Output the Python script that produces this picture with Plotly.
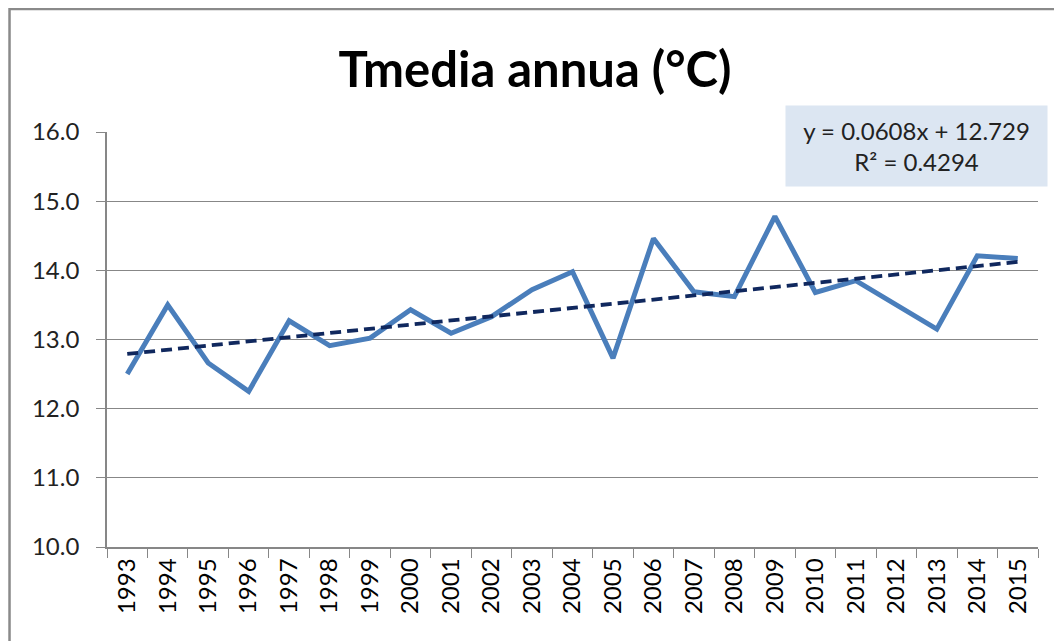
import numpy as np
import plotly.graph_objects as go

# annual mean temperature (°C)
years = [str(y) for y in range(1993, 2016)]
tmedia = [12.50, 13.50, 12.66, 12.25, 13.27, 12.91, 13.02, 13.43, 13.09, 13.33, 13.72, 13.98,
          12.73, 14.46, 13.69, 13.62, 14.78, 13.68, 13.85, 13.50, 13.15, 14.21, 14.17]
trend_label = "y = 0.0608x + 12.729<br>R² = 0.4294"

# linear trend over the category index (1..n), as in the spreadsheet
idx = np.arange(1, len(tmedia) + 1)
slope, intercept = np.polyfit(idx, tmedia, 1)
trend = slope * idx + intercept

FONT = "Lato"
GRAY = "#878787"

fig = go.Figure()
fig.add_trace(go.Scatter(x=years, y=tmedia, mode="lines",
                         line=dict(color="#4a7ebb", width=5), showlegend=False))
fig.add_trace(go.Scatter(x=years, y=trend, mode="lines",
                         line=dict(color="#10285e", width=3.8, dash="11px,6px"), showlegend=False))

# the page body adds 8px on the left/top, so the figure is a bit smaller than the window
fig.update_layout(
    width=1054, height=633,
    margin=dict(l=99, r=24, t=124, b=94),
    paper_bgcolor="white", plot_bgcolor="white",
    font=dict(family=FONT, color="#222222"),
    title=dict(text="<b>Tmedia annua (°C)</b>", x=0.5, xanchor="center",
               y=0.903, yanchor="middle", font=dict(size=49, color="black", family=FONT)),
    xaxis=dict(type="category", tickson="boundaries", ticks="outside", ticklen=9,
               tickcolor=GRAY, tickangle=-90, showgrid=False, showline=True,
               linecolor=GRAY, linewidth=1.6, tickfont=dict(size=24, color="black"),
               range=[-0.5, len(years) - 0.5]),
    yaxis=dict(range=[10, 16], dtick=1, tickformat=".1f", ticks="outside", ticklen=9,
               tickcolor=GRAY, showgrid=True, gridcolor=GRAY, gridwidth=1.4,
               showline=True, linecolor=GRAY, linewidth=1.6, zeroline=False,
               tickfont=dict(size=24, color="#222222"), ticklabelstandoff=12),
    shapes=[dict(type="rect", xref="paper", yref="paper", x0=-0.1047, x1=1.5,
                 y0=-0.5, y1=1.2965, line=dict(color="#8a8a8a", width=2.5),
                 fillcolor="rgba(0,0,0,0)", layer="below")],
    annotations=[dict(text=trend_label, xref="paper", yref="paper", x=1.0107, y=1.065,
                      xanchor="right", yanchor="top", showarrow=False, align="center",
                      width=259, height=78, bgcolor="#dce6f2",
                      font=dict(size=24, color="#222222", family=FONT))],
)

fig.write_html("out.html")
